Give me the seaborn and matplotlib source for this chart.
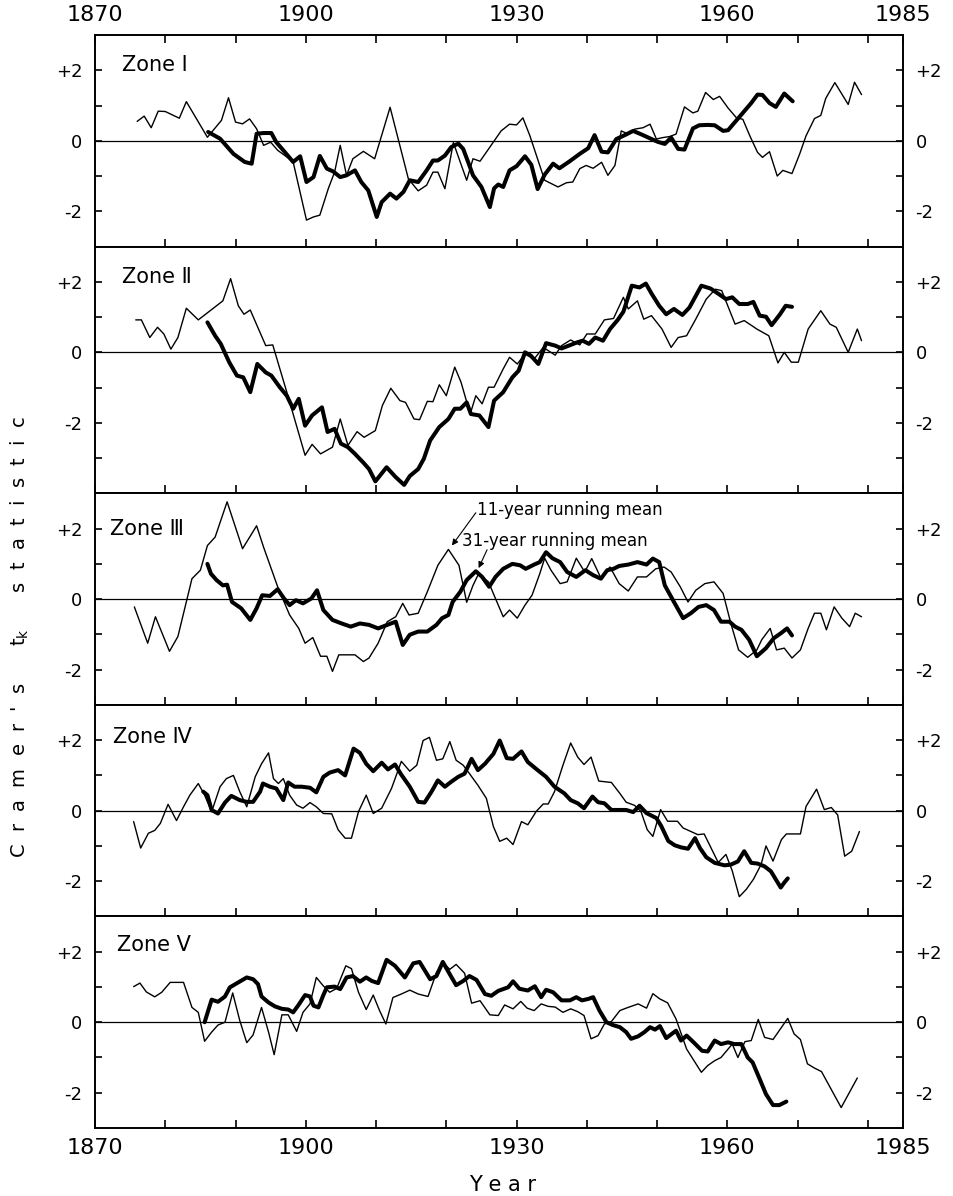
import matplotlib
matplotlib.use("Agg")
import matplotlib.pyplot as plt
import seaborn as sns
import pandas as pd

# ---- data: (year, Cramer's t_k) ----
zone_names = ["Zone \u2160", "Zone \u2161", "Zone \u2162", "Zone \u2163", "Zone \u2164"]

zone1_11yr = [(1876, 0.55), (1877, 0.70), (1878, 0.37), (1879, 0.84), (1880, 0.83), (1882, 0.64), (1883, 1.11),
              (1886, 0.10), (1888, 0.58), (1889, 1.22), (1890, 0.53), (1891, 0.48), (1892, 0.62), (1893, 0.34),
              (1894, -0.13), (1895, -0.04), (1896, -0.27), (1897.3, -0.46), (1898.2, -0.60), (1900.1, -2.25),
              (1901.1, -2.16), (1902, -2.11), (1903.2, -1.36), (1904.1, -0.89), (1904.9, -0.13), (1905.8, -0.98),
              (1906.7, -0.51), (1908.2, -0.30), (1909.8, -0.51), (1912, 0.95), (1914.6, -1.08), (1916, -1.42),
              (1917.2, -1.26), (1918.1, -0.89), (1918.8, -0.89), (1919.8, -1.36), (1921, -0.05), (1922.9, -1.12),
              (1923.8, -0.51), (1924.8, -0.58), (1926.2, -0.18), (1927.8, 0.28), (1929, 0.47), (1930, 0.45),
              (1930.9, 0.65), (1931.9, 0.14), (1934, -1.12), (1935.9, -1.31), (1937.1, -1.19), (1938, -1.17),
              (1939, -0.79), (1939.9, -0.70), (1940.9, -0.78), (1942.1, -0.61), (1943, -0.98), (1944, -0.70),
              (1944.9, 0.28), (1945.9, 0.19), (1946.8, 0.33), (1948, 0.37), (1949, 0.47), (1949.9, 0.05),
              (1950.8, 0.09), (1951.8, 0.12), (1952.7, 0.19), (1953.9, 0.96), (1955.1, 0.79), (1955.8, 0.84),
              (1956.9, 1.37), (1958, 1.17), (1958.9, 1.26), (1960.1, 0.93), (1961.3, 0.65), (1962.2, 0.61),
              (1963.2, 0.14), (1964.3, -0.33), (1965, -0.47), (1966, -0.31), (1967.1, -1.00), (1967.9, -0.84),
              (1969.2, -0.93), (1970.3, -0.37), (1971.2, 0.14), (1972.4, 0.63), (1973.3, 0.72), (1974, 1.20),
              (1975.3, 1.65), (1977.2, 1.03), (1978.1, 1.66), (1979.1, 1.31)]
zone1_31yr = [(1886.1, 0.25), (1887.8, 0.06), (1889.7, -0.37), (1891.3, -0.60), (1892.3, -0.65), (1893, 0.20),
              (1894, 0.22), (1895.1, 0.22), (1895.8, -0.04), (1896.8, -0.27), (1898.2, -0.60), (1899.2, -0.44),
              (1900.1, -1.17), (1901.1, -1.03), (1902, -0.43), (1903, -0.79), (1903.9, -0.87), (1904.9, -1.03),
              (1905.8, -0.98), (1907, -0.84), (1907.9, -1.17), (1908.9, -1.41), (1910.1, -2.16), (1910.8, -1.74),
              (1912, -1.50), (1912.9, -1.64), (1913.9, -1.45), (1914.8, -1.12), (1916, -1.17), (1917.2, -0.84),
              (1918.1, -0.56), (1918.8, -0.56), (1919.8, -0.42), (1920.7, -0.18), (1921.7, -0.08), (1922.4, -0.23),
              (1923.1, -0.60), (1923.8, -0.98), (1925, -1.31), (1926.2, -1.88), (1926.8, -1.35), (1927.4, -1.24),
              (1928.1, -1.31), (1929, -0.84), (1930, -0.72), (1931.2, -0.44), (1932.1, -0.68), (1933, -1.37),
              (1934, -0.96), (1935.2, -0.65), (1936.1, -0.78), (1937.5, -0.59), (1939, -0.37), (1940.2, -0.21),
              (1941.1, 0.16), (1942.1, -0.31), (1943, -0.33), (1944.2, 0.05), (1945.4, 0.16), (1946.6, 0.28),
              (1948, 0.16), (1949.2, 0.05), (1950.1, -0.03), (1951.1, -0.09), (1952, 0.09), (1953, -0.23),
              (1953.9, -0.25), (1955.1, 0.35), (1956, 0.44), (1957.2, 0.45), (1958.2, 0.44), (1959.4, 0.28),
              (1960.1, 0.30), (1961, 0.51), (1962.2, 0.79), (1963.4, 1.07), (1964.3, 1.31), (1965, 1.30),
              (1966, 1.07), (1966.9, 0.96), (1968.1, 1.34), (1969.3, 1.12)]

zone2_11yr = [(1875.8, 0.92), (1876.6, 0.92), (1877.8, 0.42), (1878.9, 0.71), (1879.8, 0.52), (1880.8, 0.09),
              (1881.8, 0.42), (1883, 1.25), (1884.7, 0.92), (1888.2, 1.46), (1889.3, 2.09), (1890.4, 1.32),
              (1891.2, 1.08), (1892.1, 1.20), (1894.3, 0.19), (1895.3, 0.21), (1897.3, -1.13), (1899.9, -2.92),
              (1900.9, -2.61), (1902.1, -2.88), (1903.8, -2.69), (1904.9, -1.89), (1906, -2.64), (1907.3, -2.25),
              (1908.3, -2.41), (1909.9, -2.22), (1910.9, -1.51), (1912.1, -1.02), (1913.4, -1.37), (1914.2, -1.42),
              (1915.4, -1.89), (1916.2, -1.91), (1917.3, -1.39), (1918.1, -1.40), (1919, -0.92), (1920, -1.23),
              (1921.2, -0.42), (1922.1, -0.85), (1923.4, -1.75), (1924.2, -1.23), (1925.1, -1.46), (1926, -0.99),
              (1926.8, -0.99), (1928.1, -0.47), (1929, -0.14), (1930.1, -0.33), (1931.2, -0.05), (1932.5, -0.19),
              (1933.8, 0.14), (1935.5, -0.08), (1936.4, 0.19), (1937.7, 0.35), (1939, 0.21), (1940, 0.52),
              (1941.2, 0.52), (1942.5, 0.92), (1943.8, 0.96), (1945.2, 1.56), (1945.9, 1.23), (1947.2, 1.46),
              (1948.1, 0.94), (1949.2, 1.04), (1950.7, 0.66), (1952, 0.14), (1953, 0.42), (1954.2, 0.47),
              (1955.5, 0.94), (1957, 1.51), (1958.3, 1.79), (1959.2, 1.75), (1961.1, 0.80), (1962.4, 0.90),
              (1964.2, 0.66), (1965.9, 0.47), (1967.2, -0.30), (1968.1, 0.00), (1969.1, -0.28), (1970.1, -0.28),
              (1971.5, 0.66), (1973.3, 1.18), (1974.6, 0.80), (1975.5, 0.71), (1977.2, 0.00), (1978.5, 0.66),
              (1979.1, 0.33)]
zone2_31yr = [(1886, 0.85), (1887.1, 0.47), (1887.9, 0.24), (1889.1, -0.28), (1890.2, -0.66), (1891.1, -0.71),
              (1892.1, -1.13), (1893.1, -0.33), (1894.3, -0.57), (1895.1, -0.66), (1896.3, -0.99), (1897.3, -1.23),
              (1898.2, -1.60), (1899, -1.32), (1899.9, -2.08), (1900.9, -1.79), (1902.3, -1.56), (1903.1, -2.26),
              (1904.1, -2.17), (1905, -2.59), (1906, -2.69), (1907, -2.88), (1908.2, -3.13), (1909, -3.31),
              (1909.9, -3.66), (1911.5, -3.26), (1912.8, -3.54), (1914, -3.76), (1914.8, -3.51), (1916, -3.31),
              (1916.8, -3.02), (1917.7, -2.50), (1919, -2.12), (1920.3, -1.89), (1921.2, -1.60), (1922, -1.60),
              (1922.9, -1.42), (1923.5, -1.75), (1924.7, -1.79), (1926, -2.12), (1926.8, -1.37), (1928.1, -1.13),
              (1929.4, -0.71), (1930.3, -0.52), (1931.2, 0.00), (1932, -0.09), (1933.1, -0.33), (1934.2, 0.26),
              (1935.5, 0.19), (1936.4, 0.11), (1937.7, 0.21), (1938.6, 0.28), (1939.4, 0.33), (1940.3, 0.24),
              (1941.2, 0.42), (1942.3, 0.33), (1943.3, 0.66), (1944.4, 0.92), (1945.2, 1.15), (1946.4, 1.89),
              (1947.5, 1.84), (1948.4, 1.95), (1949.2, 1.67), (1950.3, 1.32), (1951.3, 1.08), (1952.4, 1.23),
              (1953.6, 1.06), (1954.6, 1.27), (1956.3, 1.89), (1957.6, 1.81), (1958.8, 1.65), (1959.8, 1.51),
              (1960.7, 1.56), (1961.7, 1.37), (1962.9, 1.37), (1963.7, 1.43), (1964.6, 1.04), (1965.5, 1.01),
              (1966.3, 0.77), (1967.5, 1.08), (1968.3, 1.32), (1969.2, 1.29)]

zone3_11yr = [(1875.6, -0.22), (1877.5, -1.25), (1878.6, -0.50), (1880.6, -1.48), (1881.8, -1.06), (1883.8, 0.58),
              (1885, 0.82), (1886, 1.52), (1887.1, 1.76), (1888.8, 2.76), (1891, 1.43), (1893, 2.08), (1894, 1.47),
              (1896, 0.35), (1897.7, -0.45), (1899, -0.83), (1899.9, -1.25), (1901, -1.09), (1902.1, -1.62),
              (1903, -1.62), (1903.8, -2.05), (1904.7, -1.58), (1906, -1.58), (1907, -1.58), (1908.2, -1.77),
              (1909, -1.67), (1910.3, -1.25), (1911.6, -0.64), (1912.8, -0.50), (1913.8, -0.12), (1914.7, -0.45),
              (1916, -0.40), (1917.3, 0.21), (1918.8, 0.96), (1920.3, 1.41), (1921.8, 0.96), (1922.9, -0.09),
              (1923.8, 0.39), (1924.6, 0.72), (1926, 0.49), (1926.8, 0.11), (1928.1, -0.50), (1929, -0.31),
              (1930.1, -0.54), (1931.2, -0.17), (1932.2, 0.11), (1933.3, 0.72), (1934, 1.16), (1934.9, 0.82),
              (1936.2, 0.44), (1937.2, 0.49), (1938.5, 1.16), (1939.7, 0.77), (1940.7, 1.15), (1942, 0.60),
              (1943.3, 0.91), (1944.6, 0.44), (1945.9, 0.23), (1947.2, 0.63), (1948.5, 0.63), (1949.8, 0.86),
              (1951, 0.91), (1952, 0.77), (1953.3, 0.35), (1954.4, -0.08), (1955.5, 0.25), (1956.8, 0.44),
              (1958.1, 0.49), (1959.4, 0.16), (1960.5, -0.69), (1961.6, -1.44), (1962.9, -1.65), (1964.2, -1.44),
              (1964.9, -1.15), (1966.1, -0.83), (1967, -1.44), (1968.1, -1.39), (1969.2, -1.67), (1970.4, -1.44),
              (1971.5, -0.83), (1972.4, -0.40), (1973.3, -0.40), (1974.1, -0.87), (1975.2, -0.22), (1976.3, -0.54),
              (1977.4, -0.78), (1978.2, -0.40), (1979.1, -0.50)]
zone3_31yr = [(1886, 1.00), (1886.5, 0.72), (1887.3, 0.54), (1888.2, 0.39), (1888.8, 0.41), (1889.5, -0.08),
              (1890.8, -0.26), (1892.1, -0.59), (1893, -0.26), (1893.8, 0.11), (1894.9, 0.09), (1896, 0.28),
              (1896.9, 0.02), (1897.7, -0.17), (1898.6, -0.03), (1899.6, -0.12), (1900.8, 0.02), (1901.6, 0.25),
              (1902.5, -0.31), (1903.8, -0.59), (1905.1, -0.69), (1906.4, -0.78), (1907.7, -0.69), (1909, -0.73),
              (1910.3, -0.83), (1911.6, -0.73), (1912.8, -0.64), (1913.8, -1.30), (1914.8, -1.01), (1916, -0.92),
              (1917.3, -0.92), (1918.6, -0.73), (1919.4, -0.54), (1920.3, -0.45), (1920.9, -0.08), (1922, 0.21),
              (1922.9, 0.54), (1924.2, 0.79), (1925.1, 0.63), (1926.1, 0.35), (1927, 0.63), (1928.1, 0.86),
              (1929.4, 1.00), (1930.5, 0.96), (1931.3, 0.86), (1932.5, 0.98), (1933.3, 1.05), (1934.2, 1.33),
              (1935.1, 1.16), (1936.2, 1.05), (1937.2, 0.77), (1938.5, 0.63), (1939.8, 0.82), (1940.9, 0.68),
              (1942, 0.58), (1942.9, 0.82), (1943.8, 0.86), (1944.6, 0.94), (1945.9, 0.98), (1947.2, 1.05),
              (1948.5, 0.98), (1949.4, 1.15), (1950.3, 1.05), (1951.1, 0.39), (1952.4, -0.08), (1953.7, -0.54),
              (1954.8, -0.40), (1955.9, -0.22), (1957, -0.17), (1958.1, -0.31), (1959.1, -0.64), (1960.3, -0.64),
              (1961.1, -0.78), (1962, -0.87), (1963.1, -1.15), (1964.2, -1.62), (1965.5, -1.39), (1966.6, -1.11),
              (1967.6, -0.97), (1968.5, -0.83), (1969.2, -1.03)]

zone4_11yr = [(1875.5, -0.31), (1876.5, -1.06), (1877.6, -0.64), (1878.5, -0.56), (1879.3, -0.36), (1880.4, 0.18),
              (1881.6, -0.28), (1882.6, 0.11), (1883.5, 0.44), (1884.7, 0.77), (1885.6, 0.44), (1886.6, -0.03),
              (1887.8, 0.68), (1888.7, 0.91), (1889.7, 1.00), (1890.6, 0.54), (1891.6, 0.11), (1892.8, 0.96),
              (1893.7, 1.33), (1894.7, 1.64), (1895.4, 0.91), (1896.1, 0.77), (1896.8, 0.91), (1897.7, 0.44),
              (1898.7, 0.16), (1899.6, 0.07), (1900.6, 0.23), (1901.5, 0.11), (1902.5, -0.08), (1903.7, -0.09),
              (1904.6, -0.54), (1905.6, -0.78), (1906.5, -0.78), (1907.5, -0.03), (1908.6, 0.44), (1909.6, -0.08),
              (1910.8, 0.07), (1912.2, 0.63), (1913.6, 1.40), (1914.8, 1.12), (1915.8, 1.29), (1916.7, 1.99),
              (1917.6, 2.08), (1918.6, 1.43), (1919.5, 1.47), (1920.5, 1.96), (1921.4, 1.43), (1922.4, 1.29),
              (1923.3, 1.05), (1924.5, 0.72), (1925.7, 0.35), (1926.7, -0.45), (1927.6, -0.87), (1928.6, -0.78),
              (1929.5, -0.96), (1930.7, -0.31), (1931.6, -0.40), (1932.8, -0.02), (1933.8, 0.19), (1934.5, 0.19),
              (1935.4, 0.54), (1936.6, 1.29), (1937.7, 1.92), (1938.7, 1.52), (1939.6, 1.31), (1940.6, 1.52),
              (1941.7, 0.84), (1943.5, 0.80), (1944.7, 0.49), (1945.6, 0.24), (1946.8, 0.15), (1947.7, -0.02),
              (1948.6, -0.54), (1949.4, -0.73), (1950.5, 0.03), (1951.5, -0.30), (1952.9, -0.30), (1953.7, -0.49),
              (1955.8, -0.68), (1956.7, -0.66), (1958.7, -1.47), (1959.8, -1.24), (1960.7, -1.71), (1961.7, -2.44),
              (1962.7, -2.23), (1963.7, -1.95), (1964.8, -1.53), (1965.5, -1.00), (1966.5, -1.43), (1967.7, -0.82),
              (1968.4, -0.66), (1970.4, -0.66), (1971.2, 0.12), (1972.7, 0.61), (1973.8, 0.03), (1974.8, 0.09),
              (1975.7, -0.12), (1976.7, -1.29), (1977.7, -1.15), (1978.8, -0.59)]
zone4_31yr = [(1885.4, 0.54), (1886, 0.44), (1886.6, 0.02), (1887.5, -0.08), (1888.5, 0.23), (1889.4, 0.42),
              (1890.6, 0.30), (1891.6, 0.25), (1892.5, 0.25), (1893.5, 0.54), (1893.9, 0.77), (1894.9, 0.68),
              (1895.8, 0.63), (1896.8, 0.30), (1897.5, 0.80), (1898.4, 0.68), (1899.4, 0.68), (1900.6, 0.65),
              (1901.5, 0.52), (1902.5, 0.96), (1903.4, 1.08), (1904.6, 1.15), (1905.6, 1.00), (1906.8, 1.76),
              (1907.7, 1.64), (1908.6, 1.33), (1909.6, 1.12), (1910.8, 1.36), (1911.7, 1.17), (1912.7, 1.31),
              (1913.6, 1.02), (1914.8, 0.68), (1916, 0.25), (1916.9, 0.23), (1917.9, 0.54), (1918.8, 0.86),
              (1919.8, 0.68), (1920.7, 0.82), (1921.7, 0.96), (1922.6, 1.05), (1923.6, 1.47), (1924.5, 1.15),
              (1925.5, 1.33), (1926.7, 1.61), (1927.6, 1.99), (1928.6, 1.49), (1929.5, 1.47), (1930.7, 1.68),
              (1931.6, 1.38), (1933, 1.15), (1934.2, 0.96), (1935.4, 0.68), (1936.8, 0.49), (1937.7, 0.30),
              (1938.7, 0.21), (1939.6, 0.07), (1940.8, 0.40), (1941.6, 0.24), (1942.5, 0.21), (1943.5, 0.02),
              (1945.6, 0.02), (1946.6, -0.04), (1947.5, 0.14), (1948.5, -0.07), (1949.9, -0.21), (1950.6, -0.44),
              (1951.6, -0.86), (1952.5, -0.98), (1953.4, -1.04), (1954.4, -1.08), (1955.4, -0.78), (1956.1, -1.06),
              (1957, -1.32), (1958.2, -1.48), (1959.6, -1.55), (1960.5, -1.53), (1961.5, -1.44), (1962.4, -1.15),
              (1963.4, -1.48), (1964.3, -1.50), (1965.3, -1.58), (1966.2, -1.72), (1966.9, -1.95), (1967.6, -2.18),
              (1968.1, -2.04), (1968.6, -1.92)]

zone5_11yr = [(1875.5, 1.01), (1876.4, 1.11), (1877.3, 0.86), (1878.5, 0.72), (1879.5, 0.85), (1880.7, 1.13),
              (1882.6, 1.13), (1883.8, 0.42), (1884.7, 0.28), (1885.6, -0.54), (1886.6, -0.28), (1887.5, -0.08),
              (1888.5, 0.00), (1889.6, 0.83), (1890.6, 0.05), (1891.6, -0.58), (1892.5, -0.36), (1893.7, 0.42),
              (1894.7, -0.28), (1895.5, -0.92), (1896.6, 0.21), (1897.5, 0.21), (1898.7, -0.26), (1899.6, 0.28),
              (1900.6, 0.52), (1901.5, 1.27), (1902.5, 1.03), (1903.4, 0.85), (1904.4, 0.96), (1905.7, 1.60),
              (1906.5, 1.52), (1907.5, 0.85), (1908.6, 0.36), (1909.6, 0.77), (1910.5, 0.33), (1911.4, -0.05),
              (1912.4, 0.70), (1913.6, 0.80), (1914.8, 0.91), (1916, 0.80), (1917.4, 0.73), (1918.6, 1.41),
              (1919.5, 1.69), (1920.5, 1.50), (1921.4, 1.64), (1922.6, 1.39), (1923.6, 0.54), (1924.8, 0.61),
              (1926.2, 0.21), (1927.4, 0.19), (1928.3, 0.49), (1929.5, 0.38), (1930.6, 0.59), (1931.5, 0.40),
              (1932.5, 0.33), (1933.5, 0.52), (1934.5, 0.45), (1935.5, 0.43), (1936.6, 0.28), (1937.7, 0.38),
              (1938.7, 0.30), (1939.6, 0.19), (1940.6, -0.47), (1941.6, -0.38), (1942.5, -0.05), (1943.5, 0.02),
              (1944.7, 0.33), (1945.6, 0.40), (1947.3, 0.52), (1948.5, 0.40), (1949.4, 0.81), (1950.4, 0.66),
              (1951.5, 0.55), (1952.7, 0.09), (1954.2, -0.76), (1956.3, -1.42), (1957.2, -1.23), (1958.2, -1.09),
              (1959.1, -1.00), (1960.7, -0.62), (1961.5, -1.00), (1962.5, -0.55), (1963.4, -0.52), (1964.4, 0.08),
              (1965.3, -0.43), (1966.5, -0.49), (1968.6, 0.11), (1969.5, -0.33), (1970.4, -0.49), (1971.4, -1.18),
              (1972.4, -1.30), (1973.4, -1.40), (1976.2, -2.42), (1978.5, -1.58)]
zone5_31yr = [(1885.6, 0.00), (1886.6, 0.64), (1887.5, 0.58), (1888.5, 0.73), (1889.2, 0.99), (1890.4, 1.13),
              (1891.6, 1.27), (1892.5, 1.22), (1893.2, 1.08), (1893.7, 0.73), (1894.7, 0.56), (1895.6, 0.45),
              (1896.6, 0.38), (1897.5, 0.36), (1898.2, 0.28), (1898.9, 0.47), (1899.9, 0.77), (1900.6, 0.73),
              (1901.1, 0.47), (1901.8, 0.42), (1902.5, 0.77), (1903, 0.99), (1904.1, 1.01), (1904.9, 0.94),
              (1905.8, 1.27), (1906.7, 1.31), (1907.7, 1.15), (1908.6, 1.27), (1909.4, 1.17), (1910.3, 1.11),
              (1911.5, 1.77), (1912.7, 1.60), (1914.1, 1.27), (1915.3, 1.67), (1916.2, 1.71), (1917.7, 1.22),
              (1918.6, 1.31), (1919.5, 1.71), (1920.5, 1.36), (1921.4, 1.05), (1922.4, 1.17), (1923.3, 1.31),
              (1924.3, 1.20), (1925.5, 0.80), (1926.4, 0.75), (1927.4, 0.89), (1928.8, 0.99), (1929.5, 1.16),
              (1930.4, 0.95), (1931.6, 0.90), (1932.6, 1.02), (1933.5, 0.71), (1934.2, 0.92), (1935.2, 0.85),
              (1936.4, 0.62), (1937.6, 0.62), (1938.5, 0.71), (1939.3, 0.62), (1940.2, 0.66), (1940.9, 0.71),
              (1941.8, 0.33), (1942.8, 0.00), (1943.7, -0.08), (1944.7, -0.14), (1945.6, -0.28), (1946.3, -0.47),
              (1947.3, -0.40), (1948.2, -0.28), (1949, -0.14), (1949.7, -0.21), (1950.4, -0.11), (1951.3, -0.45),
              (1952.1, -0.33), (1952.7, -0.24), (1953.4, -0.52), (1954.2, -0.38), (1955.2, -0.57), (1956.4, -0.81),
              (1957.2, -0.83), (1958.2, -0.52), (1959.1, -0.62), (1960.1, -0.57), (1961, -0.62), (1962, -0.62),
              (1962.9, -1.00), (1963.6, -1.14), (1964.6, -1.61), (1965.5, -2.04), (1966.5, -2.35), (1967.4, -2.35),
              (1968.4, -2.25)]

series_11yr = [zone1_11yr, zone2_11yr, zone3_11yr, zone4_11yr, zone5_11yr]
series_31yr = [zone1_31yr, zone2_31yr, zone3_31yr, zone4_31yr, zone5_31yr]
y_lower = [-3, -4, -3, -3, -3]
year_labels = [1870, 1900, 1930, 1960, 1985]

sns.set_style("ticks")
plt.rcParams["font.family"] = ["DejaVu Sans"]
plt.rcParams["axes.linewidth"] = 1.4
# plain black text and ticks, like the printed original
for key in ["text.color", "axes.labelcolor", "xtick.color", "ytick.color", "axes.edgecolor"]:
    plt.rcParams[key] = "black"

W, H = 954, 1196
fig = plt.figure(figsize=(W / 100, H / 100), dpi=100)
gs = fig.add_gridspec(5, 1, height_ratios=[3 - lo for lo in y_lower], hspace=0,
                      left=95 / W, right=903 / W, top=1 - 35 / H, bottom=1 - 1128 / H)

label_pos = [(1873.8, 2.15), (1873.8, 2.15), (1872.2, 2.0), (1872.6, 2.1), (1873.1, 2.2)]

for i in range(5):
    ax = fig.add_subplot(gs[i])
    thin = pd.DataFrame(series_11yr[i], columns=["year", "tk"])
    thick = pd.DataFrame(series_31yr[i], columns=["year", "tk"])
    ax.axhline(0, color="black", lw=0.9, zorder=1)
    sns.lineplot(data=thin, x="year", y="tk", ax=ax, color="black", lw=1.0,
                 estimator=None, sort=False, zorder=3)
    sns.lineplot(data=thick, x="year", y="tk", ax=ax, color="black", lw=2.9,
                 estimator=None, sort=False, zorder=4)
    ax.set_xlim(1870, 1985)
    ax.set_ylim(y_lower[i], 3)
    ax.set_xlabel("")
    ax.set_ylabel("")

    ax.set_yticks([-2, 0, 2])
    ax.set_yticklabels(["-2", "0", "+2"])
    ax.set_yticks([v for v in range(y_lower[i] + 1, 3) if v not in (-2, 0, 2)], minor=True)
    ax.tick_params(axis="y", which="both", direction="in", length=5, width=1.2,
                   left=True, right=True, labelleft=True, labelright=True,
                   labelsize=13, pad=9)

    ax.set_xticks(year_labels)
    ax.set_xticks(list(range(1880, 1990, 10)), minor=True)
    ax.tick_params(axis="x", which="both", direction="in", length=6, width=1.2,
                   bottom=True, top=(i == 0), labelbottom=(i == 4), labeltop=(i == 0),
                   labelsize=16, pad=7)

    ax.text(label_pos[i][0], label_pos[i][1], zone_names[i], fontsize=15,
            ha="left", va="center")

    if i == 2:
        ax.annotate("", xy=(1920.8, 1.52), xytext=(1924.2, 2.45),
                    arrowprops=dict(arrowstyle="-|>", lw=0.8, color="black",
                                    mutation_scale=9, shrinkA=0, shrinkB=0))
        ax.annotate("", xy=(1924.6, 0.88), xytext=(1925.8, 1.40),
                    arrowprops=dict(arrowstyle="-|>", lw=0.8, color="black",
                                    mutation_scale=9, shrinkA=0, shrinkB=0))
        ax.text(1924.4, 2.52, "11-year running mean", fontsize=12, ha="left", va="center")
        ax.text(1922.3, 1.65, "31-year running mean", fontsize=12, ha="left", va="center")

fig.text(20 / W, 1 - 637 / H,
         "C  r  a  m  e  r  '  s      t$_{\\mathregular{k}}$      s  t  a  t  i  s  t  i  c",
         rotation=90, fontsize=14, ha="center", va="center")
fig.text(503 / W, 1 - 1185 / H, "Y e a r", fontsize=15, ha="center", va="center")

fig.savefig("out.png", dpi=100)
plt.close(fig)
